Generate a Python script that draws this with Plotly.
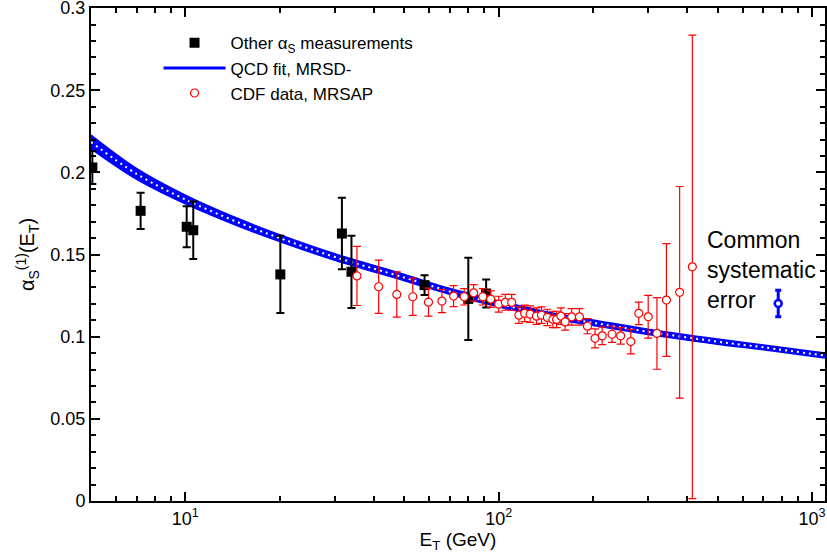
import numpy as np
import plotly.graph_objects as go

# other alpha_s measurements (black squares)
other_et = [5.05, 7.2, 10.1, 10.6, 20.1, 31.6, 33.9, 58, 80, 91.2]
other_as = [0.203, 0.1766, 0.1669, 0.1648, 0.1379, 0.1628, 0.1395, 0.1314, 0.123, 0.1263]
other_err = [0.010, 0.011, 0.0125, 0.0175, 0.0235, 0.0218, 0.022, 0.006, 0.025, 0.0085]

# QCD fit band, MRSD-
fit_et = [5, 7, 10, 15, 20, 30, 50, 70, 100, 150, 200, 300, 500, 700, 1100]
fit_lo = [0.2143, 0.1957, 0.1808, 0.1667, 0.1579, 0.1465, 0.1341, 0.1257, 0.1182, 0.1108, 0.1068, 0.1014, 0.0954, 0.0920, 0.0870]
fit_hi = [0.2227, 0.2023, 0.1862, 0.1713, 0.1621, 0.1505, 0.1379, 0.1293, 0.1218, 0.1142, 0.1102, 0.1046, 0.0986, 0.0950, 0.0900]

# CDF data, MRSAP (red open circles)
cdf_et = [35.3, 41.4, 47.3, 53.2, 59.7, 65.9, 71.8, 77.6, 83.2, 89, 94.3, 100, 105, 110,
          116, 121, 126, 132, 137, 143, 149, 153, 158, 163, 171, 181, 192, 203, 214, 230,
          245, 264, 280, 300, 320, 343, 378, 415]
cdf_as = [0.137, 0.1304, 0.1257, 0.1243, 0.121, 0.1217, 0.1247, 0.1243, 0.1267, 0.1243, 0.1229, 0.1198, 0.1209, 0.1209,
          0.1131, 0.1142, 0.1137, 0.1125, 0.1131, 0.1117, 0.1105, 0.1105, 0.1125, 0.109, 0.1121, 0.1121, 0.1064, 0.099, 0.1005, 0.1015,
          0.1005, 0.097, 0.1142, 0.1121, 0.102, 0.1223, 0.127, 0.1425]
cdf_err = [0.018, 0.0162, 0.0138, 0.0113, 0.0085, 0.007, 0.0064, 0.005, 0.005, 0.005, 0.005, 0.0048, 0.0048, 0.0048,
           0.005, 0.005, 0.005, 0.005, 0.005, 0.005, 0.005, 0.005, 0.005, 0.005, 0.005, 0.005, 0.0046, 0.0058, 0.0053, 0.005,
           0.005, 0.0075, 0.0069, 0.013, 0.0218, 0.0343, 0.0644, 0.141]

# common systematic error marker
sys_et = [780]
sys_as = [0.1202]
sys_err = [0.008]

y_ticks = [0, 0.05, 0.1, 0.15, 0.2, 0.25, 0.3]
y_labels = ["0", "0.05", "0.1", "0.15", "0.2", "0.25", "0.3"]

fig = go.Figure()

# band: lower edge, then upper edge filled down to it
fig.add_trace(go.Scatter(x=fit_et, y=fit_lo, mode="lines", line=dict(color="#0000ff", width=1.5, shape="spline"),
                         showlegend=False, hoverinfo="skip"))
fig.add_trace(go.Scatter(x=fit_et, y=fit_hi, mode="lines", line=dict(color="#0000ff", width=1.5, shape="spline"),
                         fill="tonexty", fillcolor="#0000ff", showlegend=False, hoverinfo="skip"))
# white hatching inside the band
fit_mid = [(a + b) / 2 for a, b in zip(fit_lo, fit_hi)]
fig.add_trace(go.Scatter(x=fit_et, y=fit_mid, mode="lines", line=dict(color="white", width=2, dash="2px,4px", shape="spline"),
                         showlegend=False, hoverinfo="skip"))

fig.add_trace(go.Scatter(
    x=other_et, y=other_as, mode="markers", name="Other α<sub>S</sub> measurements",
    marker=dict(symbol="square", size=10, color="black"),
    error_y=dict(type="data", array=other_err, color="black", thickness=2, width=4)))

# legend entry for the fit line
fig.add_trace(go.Scatter(x=[None], y=[None], mode="lines", name="QCD fit, MRSD-",
                         line=dict(color="#0000ff", width=3)))

fig.add_trace(go.Scatter(
    x=cdf_et, y=cdf_as, mode="markers", name="CDF data, MRSAP",
    marker=dict(symbol="circle", size=8, color="white", line=dict(color="red", width=1.2)),
    error_y=dict(type="data", array=cdf_err, color="red", thickness=1.2, width=4)))

fig.add_trace(go.Scatter(
    x=sys_et, y=sys_as, mode="markers", showlegend=False,
    marker=dict(symbol="circle", size=7, color="white", line=dict(color="#0000ff", width=2.5)),
    error_y=dict(type="data", array=sys_err, color="#0000ff", thickness=3, width=3)))

fig.add_annotation(x=0.836, y=0.468, xref="paper", yref="paper", xanchor="left", yanchor="middle",
                   text="Common<br>systematic<br>error", showarrow=False, align="left",
                   font=dict(size=23, color="black"))

minor_x = [m * 10 ** d for d in range(0, 4) for m in range(2, 10) if 5 <= m * 10 ** d <= 1100]

fig.update_xaxes(type="log", range=[np.log10(5), np.log10(1100)],
                 tickvals=[10, 100, 1000], ticktext=["10<sup>1</sup>", "10<sup>2</sup>", "10<sup>3</sup>"],
                 ticks="inside", ticklen=9, tickwidth=1.5, tickcolor="black",
                 minor=dict(ticks="inside", ticklen=5, tickcolor="black", tickvals=minor_x, showgrid=False),
                 showline=True, linewidth=2, linecolor="black", mirror="ticks",
                 showgrid=False, zeroline=False, automargin=False, ticklabeloverflow="allow",
                 title=dict(text="E<sub>T</sub> (GeV)", font=dict(size=19), standoff=4))
fig.update_yaxes(range=[0, 0.30005], tickvals=y_ticks, ticktext=y_labels,
                 ticks="inside", ticklen=9, tickwidth=1.5, tickcolor="black",
                 minor=dict(ticks="inside", ticklen=5, tickcolor="black", dtick=0.01, showgrid=False),
                 showline=True, linewidth=2, linecolor="black", mirror="ticks",
                 showgrid=False, zeroline=False, automargin=False, ticklabeloverflow="allow",
                 title=dict(text="α<sub>S</sub><sup>(1)</sup>(E<sub>T</sub>)", font=dict(size=20), standoff=10))

fig.update_layout(
    width=827, height=559,
    margin=dict(l=91, r=2, t=8, b=58),
    plot_bgcolor="white", paper_bgcolor="white",
    font=dict(family="Liberation Sans, Arial, sans-serif", size=18, color="black"),
    legend=dict(x=0.092, y=0.965, xanchor="left", yanchor="top", bgcolor="rgba(0,0,0,0)",
                font=dict(size=17), tracegroupgap=0, itemwidth=62, traceorder="normal"),
)

# drop the default page margin so the figure fills the window exactly
fig.write_html("out.html", config={"displayModeBar": False},
               post_script="document.body.style.margin='0';document.body.style.overflow='hidden';")
